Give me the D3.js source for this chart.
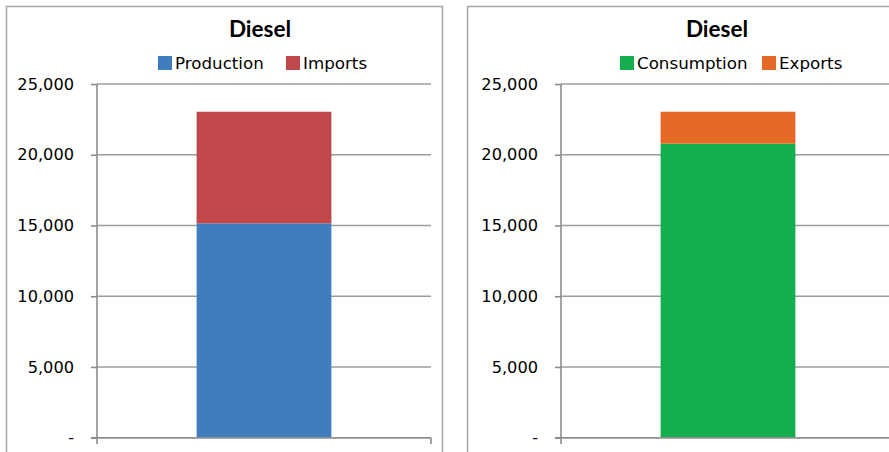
<!DOCTYPE html>
<html>
<head>
<meta charset="utf-8">
<script src="https://cdn.jsdelivr.net/npm/d3@7"></script>
<style>
  html, body { margin: 0; padding: 0; background: #fff; }
  svg { display: block; }
</style>
</head>
<body>
<div id="chart"></div>
<script>
// data
const categories = ["Diesel"];
const supplySeries = ["Production", "Imports"];
const supplyValues = [15150, 7890];
const demandSeries = ["Consumption", "Exports"];
const demandValues = [20780, 2260];
const yTicks = [0, 5000, 10000, 15000, 20000, 25000];
const yTickLabels = ["-", "5,000", "10,000", "15,000", "20,000", "25,000"];

const supplyColors = ["#417dbd", "#c0474a"];
const demandColors = ["#14ae4e", "#e46a25"];

const width = 889, height = 452;

let svg = d3.select('#chart')
  .append('svg')
  .attr('width', width)
  .attr('height', height);

function drawPanel(opts) {
  let g = svg.append('g');

  // chart frame
  g.append('rect')
    .attr('x', opts.frameX + 0.5)
    .attr('y', 6.5)
    .attr('width', 436)
    .attr('height', 470)
    .attr('fill', '#fff')
    .attr('stroke', '#a6a6a6')
    .attr('stroke-width', 1.5);

  let y = d3.scaleLinear()
    .domain([0, 25000])
    .range([437.7, 84]);

  let x = d3.scaleBand()
    .domain(categories)
    .range([opts.plotX, opts.plotX + 334])
    .padding(0.425);

  // gridlines
  g.append('g')
    .selectAll('line')
    .data(yTicks)
    .enter().append('line')
    .attr('x1', opts.plotX)
    .attr('x2', opts.plotX + 334)
    .attr('y1', d => y(d))
    .attr('y2', d => y(d))
    .attr('stroke', '#9c9c9c')
    .attr('stroke-width', 1.6);

  // y axis
  let yAxis = d3.axisLeft(y)
    .tickValues(yTicks)
    .tickSize(6)
    .tickPadding(17)
    .tickFormat((d, i) => yTickLabels[i]);

  let ya = g.append('g')
    .attr('transform', 'translate(' + opts.plotX + ',0)')
    .call(yAxis);
  ya.select('.domain').remove();
  ya.selectAll('.tick line').attr('stroke', '#8c8c8c').attr('stroke-width', 1.6);
  ya.selectAll('.tick text')
    .attr('fill', '#000')
    .style('font-family', 'DejaVu Sans')
    .style('font-size', '16.2px');

  g.append('line')
    .attr('x1', opts.plotX).attr('x2', opts.plotX)
    .attr('y1', y(25000)).attr('y2', 444)
    .attr('stroke', '#8c8c8c').attr('stroke-width', 1.6);

  // stacked bar
  let row = {cat: categories[0]};
  opts.series.forEach((s, i) => { row[s] = opts.values[i]; });
  let stacked = d3.stack().keys(opts.series)([row]);

  g.append('g')
    .selectAll('rect')
    .data(stacked)
    .enter().append('rect')
    .attr('x', d => x(d[0].data.cat))
    .attr('width', x.bandwidth())
    .attr('y', d => y(d[0][1]))
    .attr('height', d => y(d[0][0]) - y(d[0][1]))
    .attr('fill', (d, i) => opts.colors[i]);

  // category axis line and end ticks
  g.append('line')
    .attr('x1', opts.plotX - 6).attr('x2', opts.plotX + 334)
    .attr('y1', y(0)).attr('y2', y(0))
    .attr('stroke', '#8c8c8c').attr('stroke-width', 1.6);
  g.append('line')
    .attr('x1', opts.plotX + 334).attr('x2', opts.plotX + 334)
    .attr('y1', y(0)).attr('y2', 444)
    .attr('stroke', '#8c8c8c').attr('stroke-width', 1.6);

  // title
  g.append('text')
    .text(categories[0])
    .attr('x', opts.titleX)
    .attr('y', 37)
    .attr('text-anchor', 'middle')
    .style('font-family', 'Lato')
    .style('font-weight', 'bold')
    .style('font-size', '22.5px');

  // legend
  let lg = g.append('g');
  opts.series.forEach((s, i) => {
    lg.append('rect')
      .attr('x', opts.legendX[i])
      .attr('y', 56)
      .attr('width', 14)
      .attr('height', 14)
      .attr('fill', opts.colors[i]);
    lg.append('text')
      .text(s)
      .attr('x', opts.legendX[i] + 17)
      .attr('y', 68.5)
      .style('font-family', 'DejaVu Sans')
      .style('font-size', '16.7px');
  });
}

drawPanel({
  frameX: 6, plotX: 97, titleX: 260,
  series: supplySeries, values: supplyValues, colors: supplyColors,
  legendX: [158, 286]
});

drawPanel({
  frameX: 467, plotX: 561, titleX: 717,
  series: demandSeries, values: demandValues, colors: demandColors,
  legendX: [620, 762]
});
</script>
</body>
</html>
